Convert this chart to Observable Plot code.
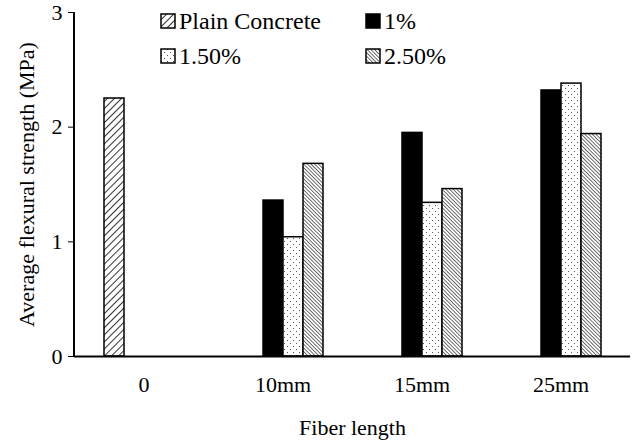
<!DOCTYPE html>
<html><head><meta charset="utf-8">
<script src="https://cdn.jsdelivr.net/npm/d3@7"></script>
<script src="https://cdn.jsdelivr.net/npm/@observablehq/plot@0.6"></script>
<style>
body{margin:0;background:#fff;font-family:"Liberation Serif",serif;}
#wrap{position:relative;width:640px;height:444px;}
.leg{position:absolute;font-size:24px;display:flex;align-items:center;line-height:1;white-space:nowrap;}
</style></head><body>
<div id="wrap"></div>
<script>
const categories = ["0","10mm","15mm","25mm"];
const seriesNames = ["Plain Concrete","1%","1.50%","2.50%"];
const plain = [2.25, null, null, null];
const pct1 = [null, 1.36, 1.95, 2.32];
const pct15 = [null, 1.04, 1.34, 2.38];
const pct25 = [null, 1.68, 1.46, 1.94];
const yTicks = [0,1,2,3];
const fills = {"Plain Concrete":"url(#pPlain)","1%":"#000","1.50%":"url(#pDots)","2.50%":"url(#pDense)"};

const data = [];
[plain,pct1,pct15,pct25].forEach((arr,si)=>arr.forEach((v,ci)=>{ if(v!=null) data.push({cat:categories[ci], s:seriesNames[si], v}); }));
const FF = "Liberation Serif, serif";
const plot = Plot.plot({
  width:640, height:444,
  marginLeft:74, marginRight:10, marginTop:12, marginBottom:88,
  style:{fontFamily:FF, fontSize:"22px", color:"#000", background:"#fff"},
  fx:{domain:categories, padding:0, label:null},
  x:{domain:seriesNames, paddingInner:0, paddingOuter:1.35, axis:null},
  y:{domain:[0,3]},
  marks:[
    Plot.barY(data,{fx:"cat", x:"s", y:"v", fill:d=>fills[d.s], stroke:"#000", strokeWidth:1.5, inset:0}),
    Plot.ruleY([0],{stroke:"#000", strokeWidth:2}),
    Plot.axisY({ticks:yTicks, tickFormat:"d", tickSize:6, tickPadding:6, fontSize:22, fontFamily:FF, label:"Average flexural strength (MPa)", labelAnchor:"center", labelOffset:56, labelArrow:"none"}),
    Plot.axisFx({anchor:"bottom", tickSize:0, tickPadding:20, fontSize:22, fontFamily:FF, label:"Fiber length", labelAnchor:"center", labelOffset:78, labelArrow:"none"})
  ]
});
const ns="http://www.w3.org/2000/svg";
const defs=document.createElementNS(ns,"defs");
defs.innerHTML=`
<pattern id="pPlain" patternUnits="userSpaceOnUse" width="5" height="5" patternTransform="rotate(45)">
 <rect width="5" height="5" fill="#fff"/><line x1="0" y1="0" x2="0" y2="5" stroke="#000" stroke-width="1.6"/></pattern>
<pattern id="pDense" patternUnits="userSpaceOnUse" width="2.6" height="2.6" patternTransform="rotate(-45)">
 <rect width="2.6" height="2.6" fill="#fff"/><line x1="0" y1="0" x2="0" y2="2.6" stroke="#333" stroke-width="1.4"/></pattern>
<pattern id="pDots" patternUnits="userSpaceOnUse" width="6" height="6">
 <rect width="6" height="6" fill="#fff"/><rect x="1" y="1" width="1" height="1" fill="#555"/><rect x="4" y="4" width="1" height="1" fill="#555"/></pattern>`;
plot.insertBefore(defs, plot.firstChild);
const ys=plot.scale("y");
const ln=document.createElementNS(ns,"line");
ln.setAttribute("x1",74);ln.setAttribute("x2",74);
ln.setAttribute("y1",ys.apply(3));ln.setAttribute("y2",ys.apply(0));
ln.setAttribute("stroke","#000");ln.setAttribute("stroke-width","2");
plot.appendChild(ln);
const wrap=document.getElementById("wrap");
wrap.appendChild(plot);
const legPos=[[160,9],[365,9],[160,44],[365,44]];
seriesNames.forEach((n,i)=>{
  const d=document.createElement("div");d.className="leg";
  d.style.left=legPos[i][0]+"px";d.style.top=legPos[i][1]+"px";
  const sw=document.createElementNS(ns,"svg");sw.setAttribute("width",16);sw.setAttribute("height",16);sw.style.marginRight="3px";
  sw.innerHTML=`<defs>${defs.innerHTML.replace(/id="(\w+)"/g,'id="$1L"')}</defs><rect x="1" y="1" width="14" height="14" fill="${fills[n].replace(/#(\w+)\)/,'#$1L)')}" stroke="#000" stroke-width="1.5"/>`;
  d.appendChild(sw);
  const t=document.createElement("span");t.textContent=n;d.appendChild(t);
  wrap.appendChild(d);
});
</script></body></html>
